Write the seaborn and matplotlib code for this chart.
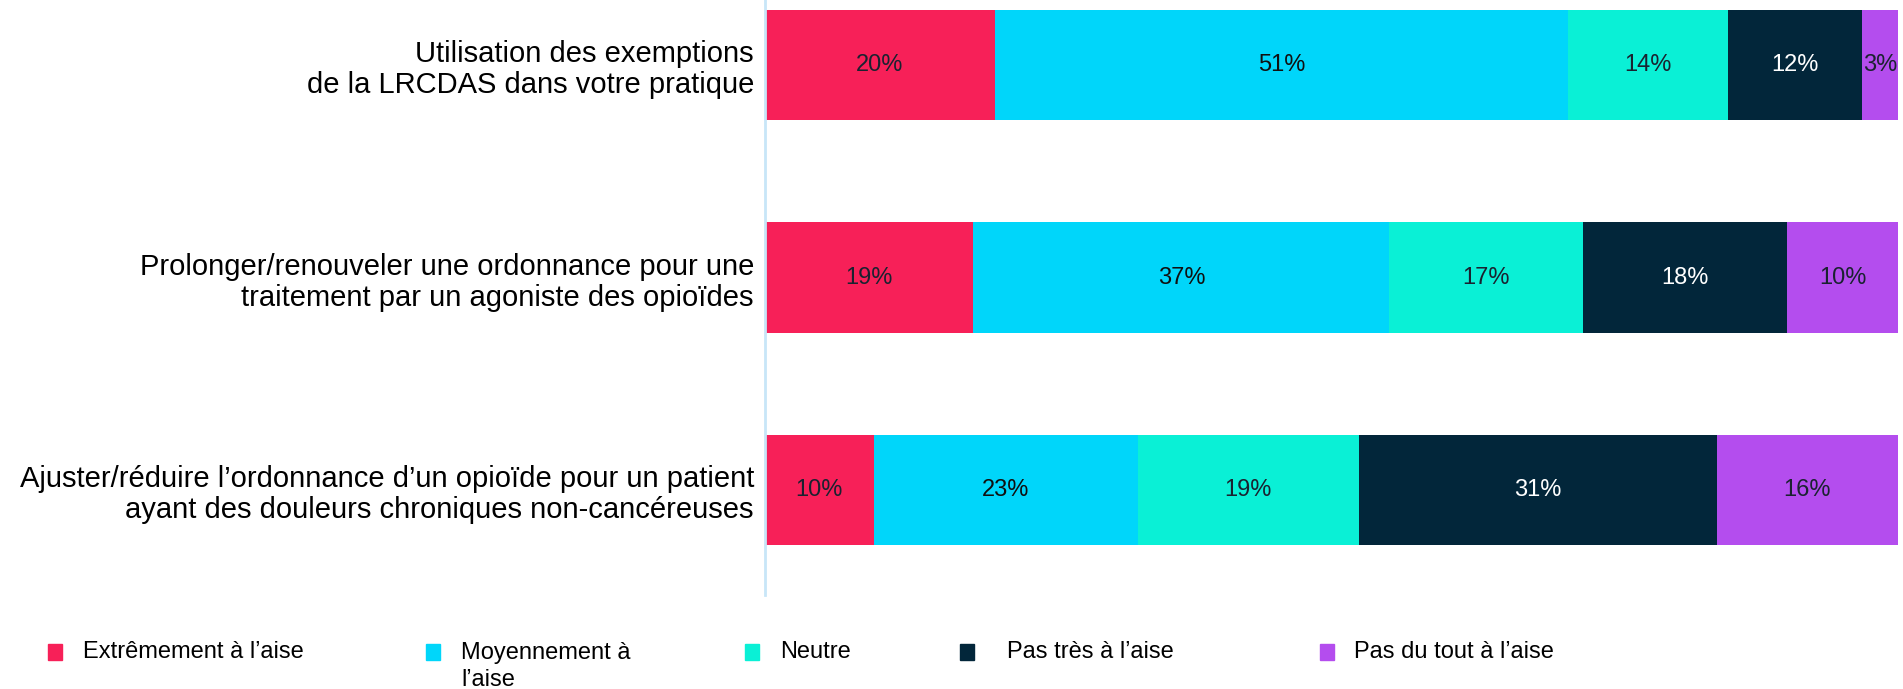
import pandas as pd
import matplotlib.pyplot as plt
import seaborn as sns
from matplotlib.patches import Rectangle

# données
questions = [
    "Utilisation des exemptions\nde la LRCDAS dans votre pratique",
    "Prolonger/renouveler une ordonnance pour une\ntraitement par un agoniste des opioïdes",
    "Ajuster/réduire l’ordonnance d’un opioïde pour un patient\nayant des douleurs chroniques non-cancéreuses",
]
categories = ["Extrêmement à l’aise", "Moyennement à\nl’aise", "Neutre",
              "Pas très à l’aise", "Pas du tout à l’aise"]
extremement = [20.3, 18.4, 9.6]
moyennement = [50.6, 36.7, 23.3]
neutre = [14.1, 17.1, 19.5]
pas_tres = [11.8, 18.0, 31.6]
pas_du_tout = [3.2, 9.8, 16.0]
labels_pct = [[20, 51, 14, 12, 3], [19, 37, 17, 18, 10], [10, 23, 19, 31, 16]]

colors = ["#F72058", "#00D6FA", "#0AF0D6", "#02263A", "#B44DEE"]
text_colors = ["#1A2230", "#101010", "#1A2230", "white", "#1A2230"]

df = pd.DataFrame({"question": questions,
                   "Extrêmement": extremement, "Moyennement": moyennement,
                   "Neutre": neutre, "Pas très": pas_tres, "Pas du tout": pas_du_tout})
cols = ["Extrêmement", "Moyennement", "Neutre", "Pas très", "Pas du tout"]
cum = df[cols].cumsum(axis=1)

sns.set_style("white")
plt.rcParams["font.family"] = ["Liberation Sans", "DejaVu Sans"]

fig = plt.figure(figsize=(19.03, 6.89), dpi=100)
ax = fig.add_axes([765 / 1903, 1 - 595 / 689, 1133 / 1903, 595 / 689])

# barres empilées : on dessine du total vers le premier segment
for i in range(len(cols) - 1, -1, -1):
    sns.barplot(x=cum[cols[i]], y=df["question"], orient="h", color=colors[i],
                width=0.52, saturation=1, ax=ax, linewidth=0)

for r in range(len(questions)):
    left = 0
    for i, c in enumerate(cols):
        w = df.loc[r, c]
        ax.text(left + w / 2, r, f"{labels_pct[r][i]}%", ha="center", va="center",
                fontsize=17, color=text_colors[i])
        left += w

ax.set_xlim(0, 100)
ax.set_ylim(2.494, -0.306)
ax.set_xlabel("")
ax.set_ylabel("")
ax.set_xticks([])
ax.tick_params(axis="y", length=0, pad=8, labelsize=21, labelcolor="black")
for s in ["top", "right", "bottom"]:
    ax.spines[s].set_visible(False)
ax.spines["left"].set_color("#C8E6F8")
ax.spines["left"].set_linewidth(2)
ax.set_yticks(range(len(questions)))
ax.set_yticklabels(questions, ha="right", linespacing=1.15)

# légende manuelle
marker_x = [55, 433, 752, 967, 1327]
text_x = [83, 461, 780, 1007, 1354]
for i, cat in enumerate(categories):
    fig.add_artist(Rectangle(((marker_x[i] - 7) / 1903, 1 - 660 / 689), 14 / 1903, 16 / 689,
                             transform=fig.transFigure, color=colors[i]))
    if "\n" in cat:
        fig.text(text_x[i] / 1903, 1 - 642 / 689, cat, ha="left", va="top",
                 fontsize=17, color="black", linespacing=1.3)
    else:
        fig.text(text_x[i] / 1903, 1 - 652 / 689, cat, ha="left", va="center",
                 fontsize=17, color="black")

fig.savefig("out.png", dpi=100)
